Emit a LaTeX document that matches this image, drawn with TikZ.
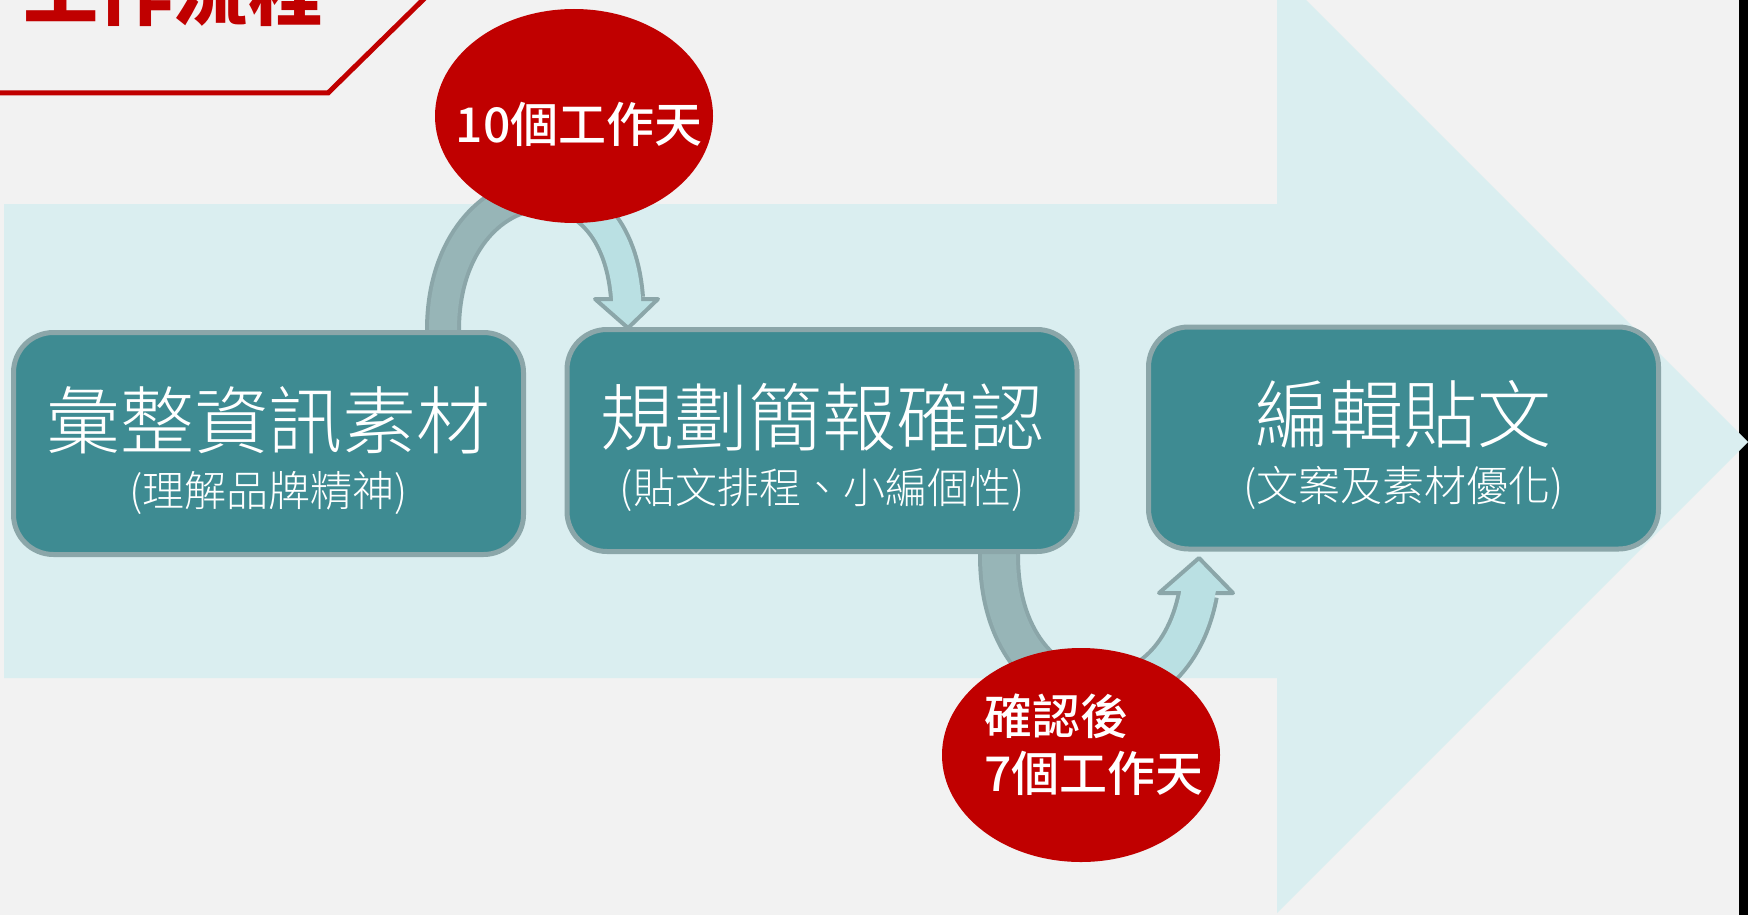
\documentclass[tikz,border=0pt]{standalone}
\usepackage{fontspec}
\setmainfont{Noto Sans CJK TC}
\newfontfamily\lightcjk{Noto Sans CJK TC Light}
\newfontfamily\medcjk{Noto Sans CJK TC Medium}
\usetikzlibrary{shapes.geometric}
\definecolor{bgc}{HTML}{F2F2F2}
\definecolor{bigarrow}{HTML}{DAEEF0}
\definecolor{boxfill}{HTML}{3E8B92}
\definecolor{boxline}{HTML}{8BA6A9}
\definecolor{darkband}{HTML}{97B5B7}
\definecolor{lightband}{HTML}{BAE0E3}
\definecolor{redc}{HTML}{C00000}
\begin{document}
\begin{tikzpicture}[x=0.5pt,y=-0.5pt,
  stepbox/.style={draw=boxline, line width=2.5pt, fill=boxfill, rounded corners=20pt,
    minimum width=255pt, minimum height=111pt, inner sep=0pt},
  maintext/.style={anchor=base, inner sep=0pt, text=white, font=\lightcjk\fontsize{37pt}{44pt}\selectfont},
  subtext/.style={anchor=base, inner sep=0pt, text=white, font=\lightcjk\fontsize{21pt}{25pt}\selectfont},
  redell/.style={ellipse, fill=redc, minimum width=139pt, minimum height=107pt, inner sep=0pt},
  redtext/.style={inner sep=0pt, text=white, font=\medcjk\fontsize{24pt}{28pt}\selectfont},
  headstyle/.style={fill=lightband, draw=boxline, line width=2pt, line join=round}
  ]
\useasboundingbox (0,0) rectangle (1748,915);
\fill[bgc] (0,0) rectangle (1748,915);
\fill[black] (1739,0) rectangle (1748,915);
% big background arrow
\fill[bigarrow] (4,204) -- (1277,204) -- (1277,-29) -- (1748,442) -- (1277,913) -- (1277,678) -- (4,678) -- cycle;
% title
\node[anchor=base west, inner sep=0pt, text=redc, font=\bfseries\fontsize{37.5pt}{40pt}\selectfont] (title) at (23,20) {工作流程};
\coordinate (tl0) at (0,93);
\coordinate (tl1) at (328,93);
\coordinate (tl2) at (433,-10);
\draw[redc, line width=2.5pt] (tl0) -- (tl1) -- (tl2);
% top curved arrow
\draw[boxline, line width=18pt] (443,345) -- (443,330) .. controls (443,250) and (486,202.5) .. (530.5,194.75) .. controls (575,187) and (621,219) .. (627,298);
\draw[headstyle] (595,299) -- (658,299) -- (628,328) -- cycle;
\draw[darkband, line width=14pt] (443,345) -- (443,330) .. controls (443,250) and (486,202.5) .. (530.5,194.75);
\draw[lightband, line width=14pt] (530.5,194.75) .. controls (575,187) and (621,219) .. (627,298) -- (627.5,306);
% bottom curved arrow
\draw[boxline, line width=21pt] (999,540) -- (999,557) .. controls (999.5,638.5) and (1042.25,684.25) .. (1088.375,691.375) .. controls (1134.5,698.5) and (1184,667) .. (1198,594);
\draw[headstyle] (1159,593) -- (1233,593) -- (1199,558) -- cycle;
\draw[darkband, line width=17pt] (999,540) -- (999,557) .. controls (999.5,638.5) and (1042.25,684.25) .. (1088.375,691.375);
\draw[lightband, line width=17pt] (1088.375,691.375) .. controls (1134.5,698.5) and (1184,667) .. (1198,594) -- (1199.3,587);
% boxes
\node[stepbox] (b1) at (268.5,443.5) {};
\node[stepbox] (b2) at (822,440.5) {};
\node[stepbox] (b3) at (1403.5,438) {};
\node[maintext] (b1m) at (268.5,448) {彙整資訊素材};
\node[subtext] (b1s) at (268.5,506.5) {(理解品牌精神)};
\node[maintext] (b2m) at (822,445) {規劃簡報確認};
\node[subtext] (b2s) at (822,503.5) {(貼文排程、小編個性)};
\node[maintext] (b3m) at (1403.5,442.5) {編輯貼文};
\node[subtext] (b3s) at (1403.5,501) {(文案及素材優化)};
% red ellipses
\node[redell] (e1) at (574,116) {};
\node[redtext, anchor=base] (e1t) at (579,142) {10個工作天};
\node[redell] (e2) at (1081,755) {};
\node[redtext, anchor=base west] (e2a) at (984,734) {確認後};
\node[redtext, anchor=base west] (e2b) at (984,791) {7個工作天};
\end{tikzpicture}
\end{document}
